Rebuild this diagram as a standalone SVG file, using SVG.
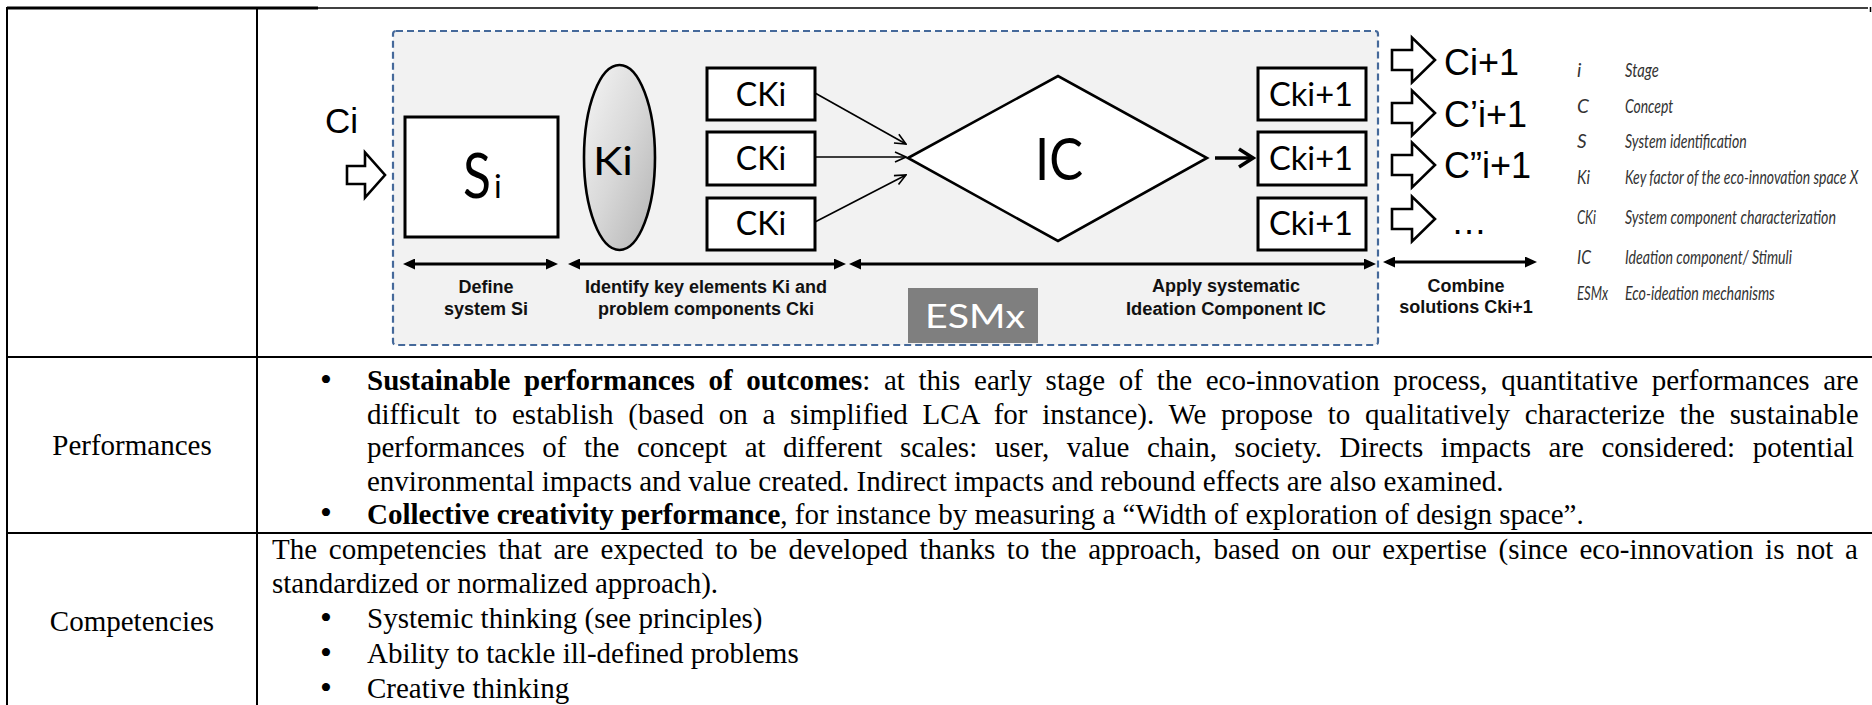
<svg xmlns="http://www.w3.org/2000/svg" width="1872" height="705" viewBox="0 0 1872 705">
<style>
.tl{stroke:#000;stroke-width:2;fill:none}
.box{fill:#fff;stroke:#000;stroke-width:3}
.cal{font-family:Lato,"Noto Sans",sans-serif;fill:#000}
.ar{font-family:"Liberation Sans",Arial,sans-serif;fill:#000}
.lb{font-family:"Liberation Sans",Arial,sans-serif;font-weight:bold;font-size:18px;fill:#111;text-anchor:middle}
.lg{font-family:Lato,"Noto Sans",sans-serif;font-style:italic;font-size:19px;fill:#333}
.tx{font-family:"Liberation Serif","Times New Roman",serif;font-size:29px;fill:#000}
.bu{font-family:"Liberation Serif","Times New Roman",serif;font-size:34px;fill:#000}
.hol{fill:#fff;stroke:#000;stroke-width:2.6;stroke-linejoin:miter}
.thin{stroke:#000;stroke-width:1.6;fill:none}
.dbl{stroke:#000;stroke-width:3.2;fill:none}
</style>
<defs>
<marker id="open" viewBox="-1 -1 13 12" refX="11" refY="5" markerWidth="13" markerHeight="12" markerUnits="userSpaceOnUse" orient="auto">
<path d="M0,0 L11,5 L0,10" fill="none" stroke="#000" stroke-width="1.6"/>
</marker>
<marker id="openThick" viewBox="-3 -3 20 24" refX="14" refY="9" markerWidth="20" markerHeight="24" markerUnits="userSpaceOnUse" orient="auto">
<path d="M0,0 L14,9 L0,18" fill="none" stroke="#000" stroke-width="3.5"/>
</marker>
<marker id="tri" viewBox="0 0 12 11" refX="8" refY="5.5" markerWidth="12" markerHeight="11" markerUnits="userSpaceOnUse" orient="auto-start-reverse">
<path d="M0,0 L12,5.5 L0,11 Z" fill="#000"/>
</marker>
<linearGradient id="kgrad" x1="0" y1="0" x2="1" y2="1">
<stop offset="0" stop-color="#f6f6f6"/>
<stop offset="0.5" stop-color="#d8d8d8"/>
<stop offset="1" stop-color="#b2b2b2"/>
</linearGradient>
</defs>
<rect x="0" y="0" width="1872" height="705" fill="#fff"/>

<g id="table">
<line x1="7" y1="8" x2="318" y2="8" stroke="#000" stroke-width="3"/>
<line x1="318" y1="8" x2="1868" y2="8" stroke="#000" stroke-width="1.5"/>
<line x1="1870.5" y1="7" x2="1870.5" y2="12" stroke="#000" stroke-width="1.5"/>
<line class="tl" x1="7" y1="7" x2="7" y2="705"/>
<line class="tl" x1="257" y1="7" x2="257" y2="705"/>
<line class="tl" x1="6" y1="357" x2="1872" y2="357"/>
<line class="tl" x1="6" y1="533" x2="1872" y2="533"/>
</g>

<g id="esm-frame">
<rect x="393" y="31" width="985" height="314" rx="3" fill="#f2f2f2" stroke="#45699a" stroke-width="2.2" stroke-dasharray="7 4"/>
</g>

<g id="node-ci">
<text class="ar" x="325" y="133" font-size="35">Ci</text>
<polygon class="hol" points="347,166 365,166 365,152.5 385,175 365,197.5 365,184 347,184"/>
</g>

<g id="node-si">
<rect class="box" x="405" y="117" width="153" height="120" stroke-width="2.6"/>
<text class="cal" x="463" y="198" font-size="62" textLength="28" lengthAdjust="spacingAndGlyphs">S</text>
<text class="cal" x="494" y="198" font-size="32">i</text>
</g>

<g id="node-ki">
<ellipse cx="619.5" cy="157.5" rx="35.5" ry="92.5" fill="url(#kgrad)" stroke="#000" stroke-width="2.6"/>
<text class="cal" x="593" y="175" font-size="38" textLength="40" lengthAdjust="spacingAndGlyphs">Ki</text>
</g>

<g id="node-cki-1"><rect class="box" x="707" y="68" width="108" height="52"/><text class="cal" x="761" y="106" font-size="32" text-anchor="middle">CKi</text></g>
<g id="node-cki-2"><rect class="box" x="707" y="132" width="108" height="53"/><text class="cal" x="761" y="170" font-size="32" text-anchor="middle">CKi</text></g>
<g id="node-cki-3"><rect class="box" x="707" y="198" width="108" height="52"/><text class="cal" x="761" y="235" font-size="32" text-anchor="middle">CKi</text></g>

<g id="node-ic">
<polygon points="908,158 1058,76 1207,158 1058,241" fill="#fff" stroke="#000" stroke-width="2.6" stroke-linejoin="miter"/>
<text class="cal" x="1035" y="180" font-size="58" textLength="48" lengthAdjust="spacingAndGlyphs">IC</text>
</g>

<g id="node-ckn-1"><rect class="box" x="1258" y="68" width="108" height="52"/><text class="cal" x="1269" y="106" font-size="32" textLength="84" lengthAdjust="spacingAndGlyphs">Cki+1</text></g>
<g id="node-ckn-2"><rect class="box" x="1258" y="132" width="108" height="53"/><text class="cal" x="1269" y="170" font-size="32" textLength="84" lengthAdjust="spacingAndGlyphs">Cki+1</text></g>
<g id="node-ckn-3"><rect class="box" x="1258" y="198" width="108" height="52"/><text class="cal" x="1269" y="235" font-size="32" textLength="84" lengthAdjust="spacingAndGlyphs">Cki+1</text></g>

<g id="node-esmx">
<rect x="908" y="288" width="130" height="55" fill="#7f7f7f"/>
<text class="cal" x="925" y="328" font-size="33" style="fill:#fff" textLength="100" lengthAdjust="spacingAndGlyphs">ESMx</text>
</g>

<g id="node-outputs">
<polygon class="hol" points="1392,50 1412,50 1412,37.5 1435,60 1412,82.5 1412,70 1392,70"/>
<polygon class="hol" points="1392,103 1412,103 1412,90.5 1435,113 1412,135.5 1412,123 1392,123"/>
<polygon class="hol" points="1392,155 1412,155 1412,142.5 1435,165 1412,187.5 1412,175 1392,175"/>
<polygon class="hol" points="1392,209 1412,209 1412,196.5 1435,219 1412,241.5 1412,229 1392,229"/>
<text class="ar" x="1444" y="75" font-size="36">Ci+1</text>
<text class="ar" x="1444" y="127" font-size="36">C’i+1</text>
<text class="ar" x="1444" y="178" font-size="36">C”i+1</text>
<text class="ar" x="1451" y="234" font-size="36">…</text>
</g>

<g id="stage-labels">
<text class="lb" x="486" y="293">Define</text>
<text class="lb" x="486" y="315">system Si</text>
<text class="lb" x="706" y="293">Identify key elements Ki and</text>
<text class="lb" x="706" y="315">problem components Cki</text>
<text class="lb" x="1226" y="292">Apply systematic</text>
<text class="lb" x="1226" y="315" textLength="200" lengthAdjust="spacingAndGlyphs">Ideation Component IC</text>
<text class="lb" x="1466" y="292">Combine</text>
<text class="lb" x="1466" y="313">solutions Cki+1</text>
</g>

<g id="legend">
<text class="lg" x="1577" y="77">i</text>
<text class="lg" x="1577" y="113">C</text>
<text class="lg" x="1577" y="148">S</text>
<text class="lg" x="1577" y="184" textLength="13" lengthAdjust="spacingAndGlyphs">Ki</text>
<text class="lg" x="1577" y="224" textLength="19" lengthAdjust="spacingAndGlyphs">CKi</text>
<text class="lg" x="1577" y="264" textLength="14" lengthAdjust="spacingAndGlyphs">IC</text>
<text class="lg" x="1577" y="300" textLength="31" lengthAdjust="spacingAndGlyphs">ESMx</text>
<g transform="translate(1625,0) scale(0.72,1)">
<text class="lg" x="0" y="77" textLength="47" lengthAdjust="spacingAndGlyphs">Stage</text>
<text class="lg" x="0" y="113" textLength="67" lengthAdjust="spacingAndGlyphs">Concept</text>
<text class="lg" x="0" y="148" textLength="169" lengthAdjust="spacingAndGlyphs">System identification</text>
<text class="lg" x="0" y="184" textLength="324" lengthAdjust="spacingAndGlyphs">Key factor of the eco-innovation space X</text>
<text class="lg" x="0" y="224" textLength="293" lengthAdjust="spacingAndGlyphs">System component characterization</text>
<text class="lg" x="0" y="264" textLength="232" lengthAdjust="spacingAndGlyphs">Ideation component/ Stimuli</text>
<text class="lg" x="0" y="300" textLength="208" lengthAdjust="spacingAndGlyphs">Eco-ideation mechanisms</text>
</g>
</g>

<g id="connectors">
<line class="thin" x1="815" y1="93" x2="906" y2="144" marker-end="url(#open)"/>
<line class="thin" x1="815" y1="157" x2="906" y2="157" marker-end="url(#open)"/>
<line class="thin" x1="815" y1="222" x2="906" y2="175" marker-end="url(#open)"/>
<line x1="1215" y1="158" x2="1253" y2="158" stroke="#000" stroke-width="3.5" marker-end="url(#openThick)"/>
<line class="dbl" x1="407" y1="264" x2="554" y2="264" marker-start="url(#tri)" marker-end="url(#tri)"/>
<line class="dbl" x1="572" y1="264" x2="842" y2="264" marker-start="url(#tri)" marker-end="url(#tri)"/>
<line class="dbl" x1="853" y1="264" x2="1372" y2="264" marker-start="url(#tri)" marker-end="url(#tri)"/>
<line class="dbl" x1="1387" y1="262" x2="1533" y2="262" marker-start="url(#tri)" marker-end="url(#tri)"/>
</g>

<g id="row-performances">
<text class="tx" x="132" y="455" text-anchor="middle">Performances</text>
<text class="bu" x="320" y="391">•</text>
<text class="tx" x="367" y="390" word-spacing="6.39"><tspan font-weight="bold">Sustainable performances of outcomes</tspan>: at this early stage of the eco-innovation process, quantitative performances are</text>
<text class="tx" x="367" y="423.5" word-spacing="7.52">difficult to establish (based on a simplified LCA for instance). We propose to qualitatively characterize the sustainable</text>
<text class="tx" x="367" y="457" word-spacing="10.27">performances of the concept at different scales: user, value chain, society. Directs impacts are considered: potential</text>
<text class="tx" x="367" y="490.5">environmental impacts and value created. Indirect impacts and rebound effects are also examined.</text>
<text class="bu" x="320" y="524">•</text>
<text class="tx" x="367" y="524"><tspan font-weight="bold">Collective creativity performance</tspan>, for instance by measuring a “Width of exploration of design space”.</text>
</g>

<g id="row-competencies">
<text class="tx" x="132" y="631" text-anchor="middle">Competencies</text>
<text class="tx" x="272" y="559" word-spacing="4.44">The competencies that are expected to be developed thanks to the approach, based on our expertise (since eco-innovation is not a</text>
<text class="tx" x="272" y="593">standardized or normalized approach).</text>
<text class="bu" x="320" y="629">•</text>
<text class="tx" x="367" y="628">Systemic thinking (see principles)</text>
<text class="bu" x="320" y="664">•</text>
<text class="tx" x="367" y="663">Ability to tackle ill-defined problems</text>
<text class="bu" x="320" y="699">•</text>
<text class="tx" x="367" y="698">Creative thinking</text>
</g>
</svg>
